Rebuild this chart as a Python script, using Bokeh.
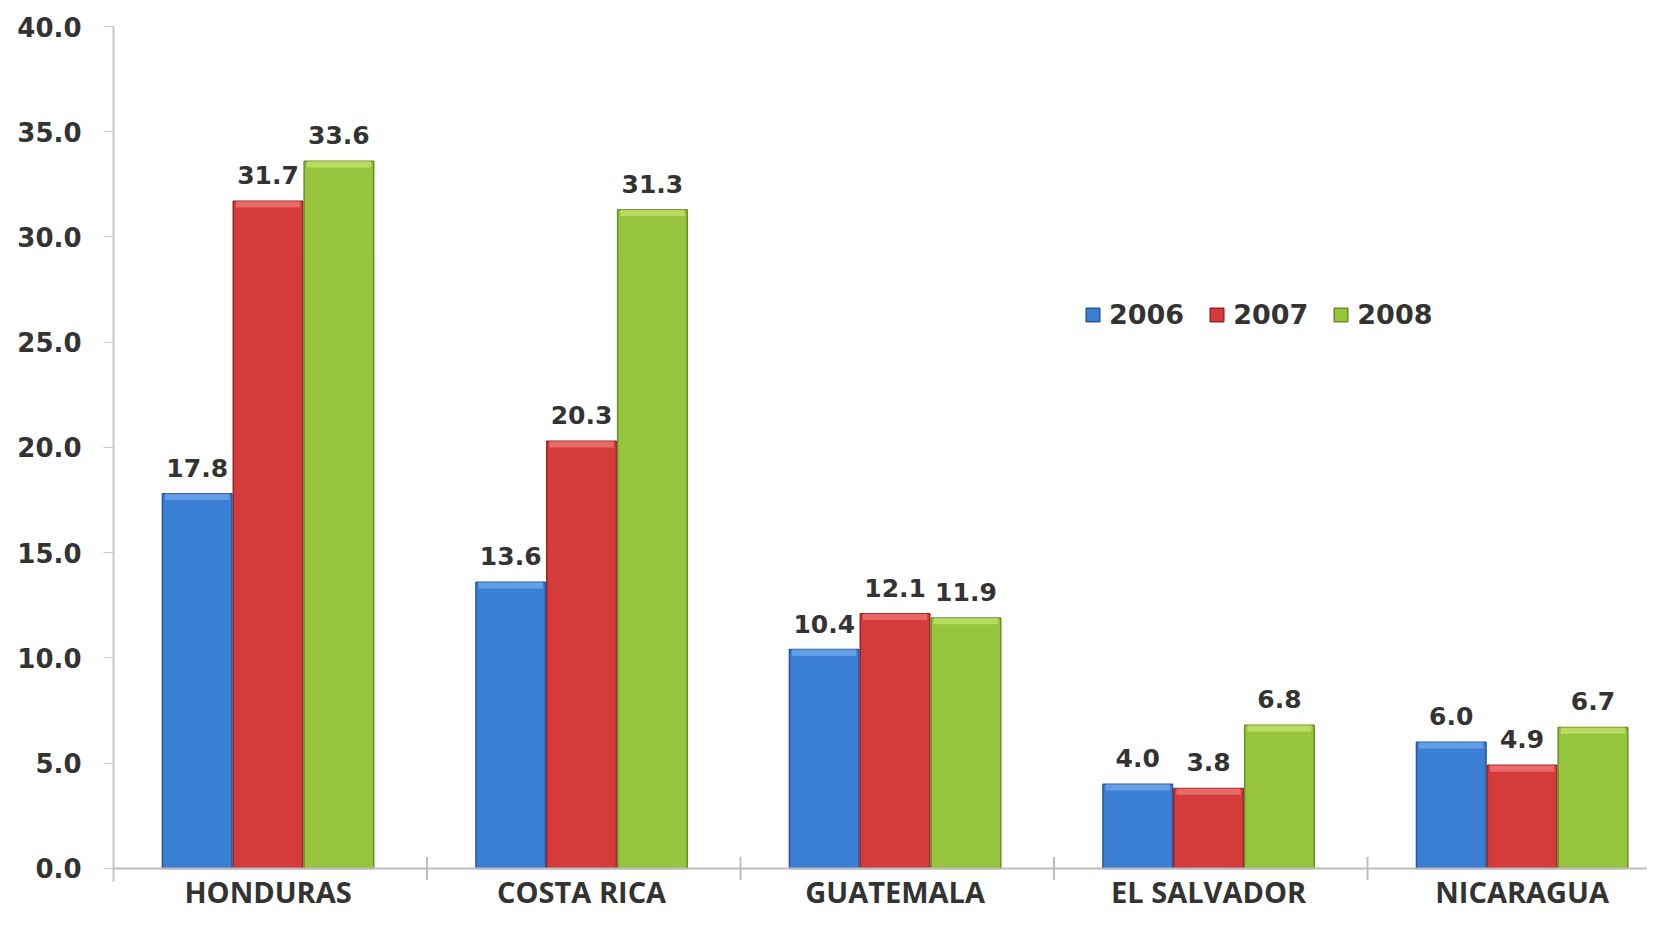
import math
from bokeh.plotting import figure
from bokeh.models import (Range1d, FixedTicker, NumeralTickFormatter, ColumnDataSource,
                          Legend, LegendItem, Span)
from bokeh.core.properties import value
from bokeh.embed import file_html
from bokeh.resources import INLINE

countries = ["HONDURAS", "COSTA RICA", "GUATEMALA", "EL SALVADOR", "NICARAGUA"]
years = ["2006", "2007", "2008"]
v2006 = [17.8, 13.6, 10.4, 4.0, 6.0]
v2007 = [31.7, 20.3, 12.1, 3.8, 4.9]
v2008 = [33.6, 31.3, 11.9, 6.8, 6.7]
y_ticks = [0, 5, 10, 15, 20, 25, 30, 35, 40]

fills = ["#3a7fd4", "#d63b3b", "#96c43c"]
edges = ["#24589e", "#962626", "#678f26"]
caps = ["#6fa6ea", "#ee7474", "#bfe26a"]

# the frame runs below zero so that the category names can sit under the axis line
p = figure(width=1647, height=913, output_backend="svg", toolbar_location=None,
           x_range=Range1d(0, 4.893), y_range=Range1d(-2.139, 40),
           x_axis_location=None,
           min_border_left=113, min_border_right=0, min_border_top=26, min_border_bottom=0)
p.outline_line_color = None
p.xgrid.visible = False
p.ygrid.visible = False
p.background_fill_color = "white"

n = len(countries)
centers = [i + 0.493 for i in range(n)]
boundaries = [i for i in range(1, n)]
offsets = [-0.226, 0.0, 0.226]
series = [v2006, v2007, v2008]

items = []
for k, (yr, vals) in enumerate(zip(years, series)):
    xs = [c + offsets[k] for c in centers]
    src = ColumnDataSource(dict(x=xs, top=vals,
                                capb=[v - 0.3 for v in vals],
                                lab=["{:.1f}".format(v) for v in vals]))
    r = p.vbar(x="x", top="top", bottom=0, width=0.222, source=src,
               fill_color=fills[k], line_color=edges[k], line_width=1.5)
    p.vbar(x="x", top="top", bottom="capb", width=0.205, source=src,
           fill_color=caps[k], line_color=None, fill_alpha=0.8)
    p.text(x="x", y="top", text="lab", source=src, text_align="center",
           text_baseline="middle", y_offset=-26,
           text_font=value("DejaVu Sans"), text_font_style="bold",
           text_font_size="25px", text_color="#333333")
    items.append(LegendItem(label=yr, renderers=[r]))

# x axis line, boundary ticks and category names
p.add_layout(Span(location=0, dimension="width", line_color="#bdbdbd", line_width=2))
p.scatter(x=boundaries, y=[0] * len(boundaries), marker="dash", angle=math.pi / 2,
          size=23, line_color="#bdbdbd", line_width=2)
cat_src = ColumnDataSource(dict(x=centers, y=[0] * n, text=countries))
p.text(x="x", y="y", text="text", source=cat_src, y_offset=23,
       text_align="center", text_baseline="middle",
       text_font=value("Open Sans"), text_font_style="bold",
       text_font_size="29px", text_color="#333333")

# y axis
yax = p.yaxis[0]
yax.ticker = FixedTicker(ticks=y_ticks)
yax.bounds = (-0.6, 40)
yax.formatter = NumeralTickFormatter(format="0.0")
yax.axis_line_color = "#c8c8c8"
yax.axis_line_width = 2
yax.major_tick_line_color = "#c8c8c8"
yax.major_tick_out = 10
yax.major_tick_in = 0
yax.minor_tick_line_color = None
yax.major_label_standoff = 22
yax.major_label_text_font = "DejaVu Sans"
yax.major_label_text_font_style = "bold"
yax.major_label_text_font_size = "26px"
yax.major_label_text_color = "#333333"

legend = Legend(items=items, orientation="horizontal", location=(971, 583),
                border_line_color=None, background_fill_alpha=0,
                padding=0, margin=0, spacing=24, label_standoff=8,
                glyph_width=17, glyph_height=17,
                label_text_font="DejaVu Sans", label_text_font_style="bold",
                label_text_font_size="27px", label_text_color="#333333")
p.add_layout(legend)

open("out.html", "w").write(file_html(p, INLINE))
